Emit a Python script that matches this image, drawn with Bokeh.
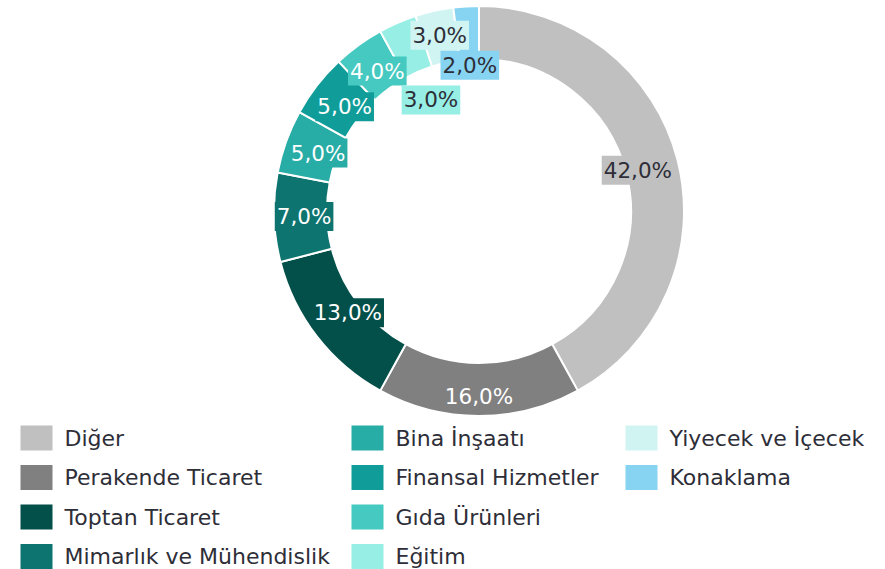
import math
from bokeh.plotting import figure
from bokeh.models import ColumnDataSource, Range1d
from bokeh.core.properties import value
from bokeh.embed import file_html
from bokeh.resources import INLINE

# ---- data ----
categories = ["Diğer", "Perakende Ticaret", "Toptan Ticaret", "Mimarlık ve Mühendislik",
              "Bina İnşaatı", "Finansal Hizmetler", "Gıda Ürünleri", "Eğitim",
              "Yiyecek ve İçecek", "Konaklama"]
shares = [42.0, 16.0, 13.0, 7.0, 5.0, 5.0, 4.0, 3.0, 3.0, 2.0]

# ---- style ----
DARK = "#2e2e38"
colors = ["#c0c0c0", "#808080", "#03504b", "#0e7470", "#27aca6",
          "#109d99", "#45c9c0", "#96eee5", "#d0f4f2", "#87d3f2"]
label_text_colors = [DARK, "#ffffff", "#ffffff", "#ffffff", "#ffffff",
                     "#ffffff", "#ffffff", DARK, DARK, DARK]
label_radius = [164, 185, 166, 175, 171, 170, 173, 121, 180, 146]
FONT = "DejaVu Sans"

W, H = 885, 569
CX, CY = 478.5, 210.5          # donut centre in page pixels
R_OUT, R_IN = 205, 152

def px(x):
    return x - CX

def py(y):
    return CY - y

p = figure(width=W, height=H,
           x_range=Range1d(-CX, W - CX),
           y_range=Range1d(CY - H, CY),
           output_backend="svg", toolbar_location=None, min_border=0)
p.xaxis.visible = False
p.yaxis.visible = False
p.xgrid.visible = False
p.ygrid.visible = False
p.outline_line_color = None
p.background_fill_color = "white"
p.border_fill_color = "white"

total = sum(shares)
starts, ends, lx, ly, labels = [], [], [], [], []
cum = 0.0
for v, r in zip(shares, label_radius):
    a0 = math.pi / 2 - 2 * math.pi * (cum + v) / total
    a1 = math.pi / 2 - 2 * math.pi * cum / total
    starts.append(a0)
    ends.append(a1)
    mid = (a0 + a1) / 2
    lx.append(r * math.cos(mid))
    ly.append(r * math.sin(mid))
    labels.append(f"{v:.1f}".replace(".", ",") + "%")
    cum += v

src = ColumnDataSource(dict(cat=categories, share=shares, start=starts, end=ends,
                            color=colors, lx=lx, ly=ly, label=labels,
                            tcolor=label_text_colors))

p.annular_wedge(x=0, y=0, inner_radius=R_IN, outer_radius=R_OUT,
                start_angle="start", end_angle="end", direction="anticlock",
                fill_color="color", line_color="white", line_width=2, source=src)

p.text(x="lx", y="ly", text="label", text_color="tcolor",
       text_font=value(FONT), text_font_size="21.5px",
       text_align="center", text_baseline="middle",
       background_fill_color="color", padding=2, source=src)

# ---- legend (4 rows x 3 columns) ----
col_left = [20, 351, 625]
row0, row_step = 437.5, 39.5
sq_w, sq_h = 32, 25
lgx, lgy, tx = [], [], []
for i in range(len(categories)):
    c, r = divmod(i, 4)
    lgx.append(px(col_left[c] + sq_w / 2))
    lgy.append(py(row0 + r * row_step))
    tx.append(px(col_left[c] + sq_w + 12))

lsrc = ColumnDataSource(dict(x=lgx, y=lgy, tx=tx, cat=categories, color=colors))
p.rect(x="x", y="y", width=sq_w, height=sq_h, fill_color="color",
       line_color=None, source=lsrc)
p.text(x="tx", y="y", text="cat", text_color=DARK, text_font=value(FONT),
       text_font_size="22px", text_align="left", text_baseline="middle",
       source=lsrc)

open("out.html", "w").write(file_html(p, INLINE))
